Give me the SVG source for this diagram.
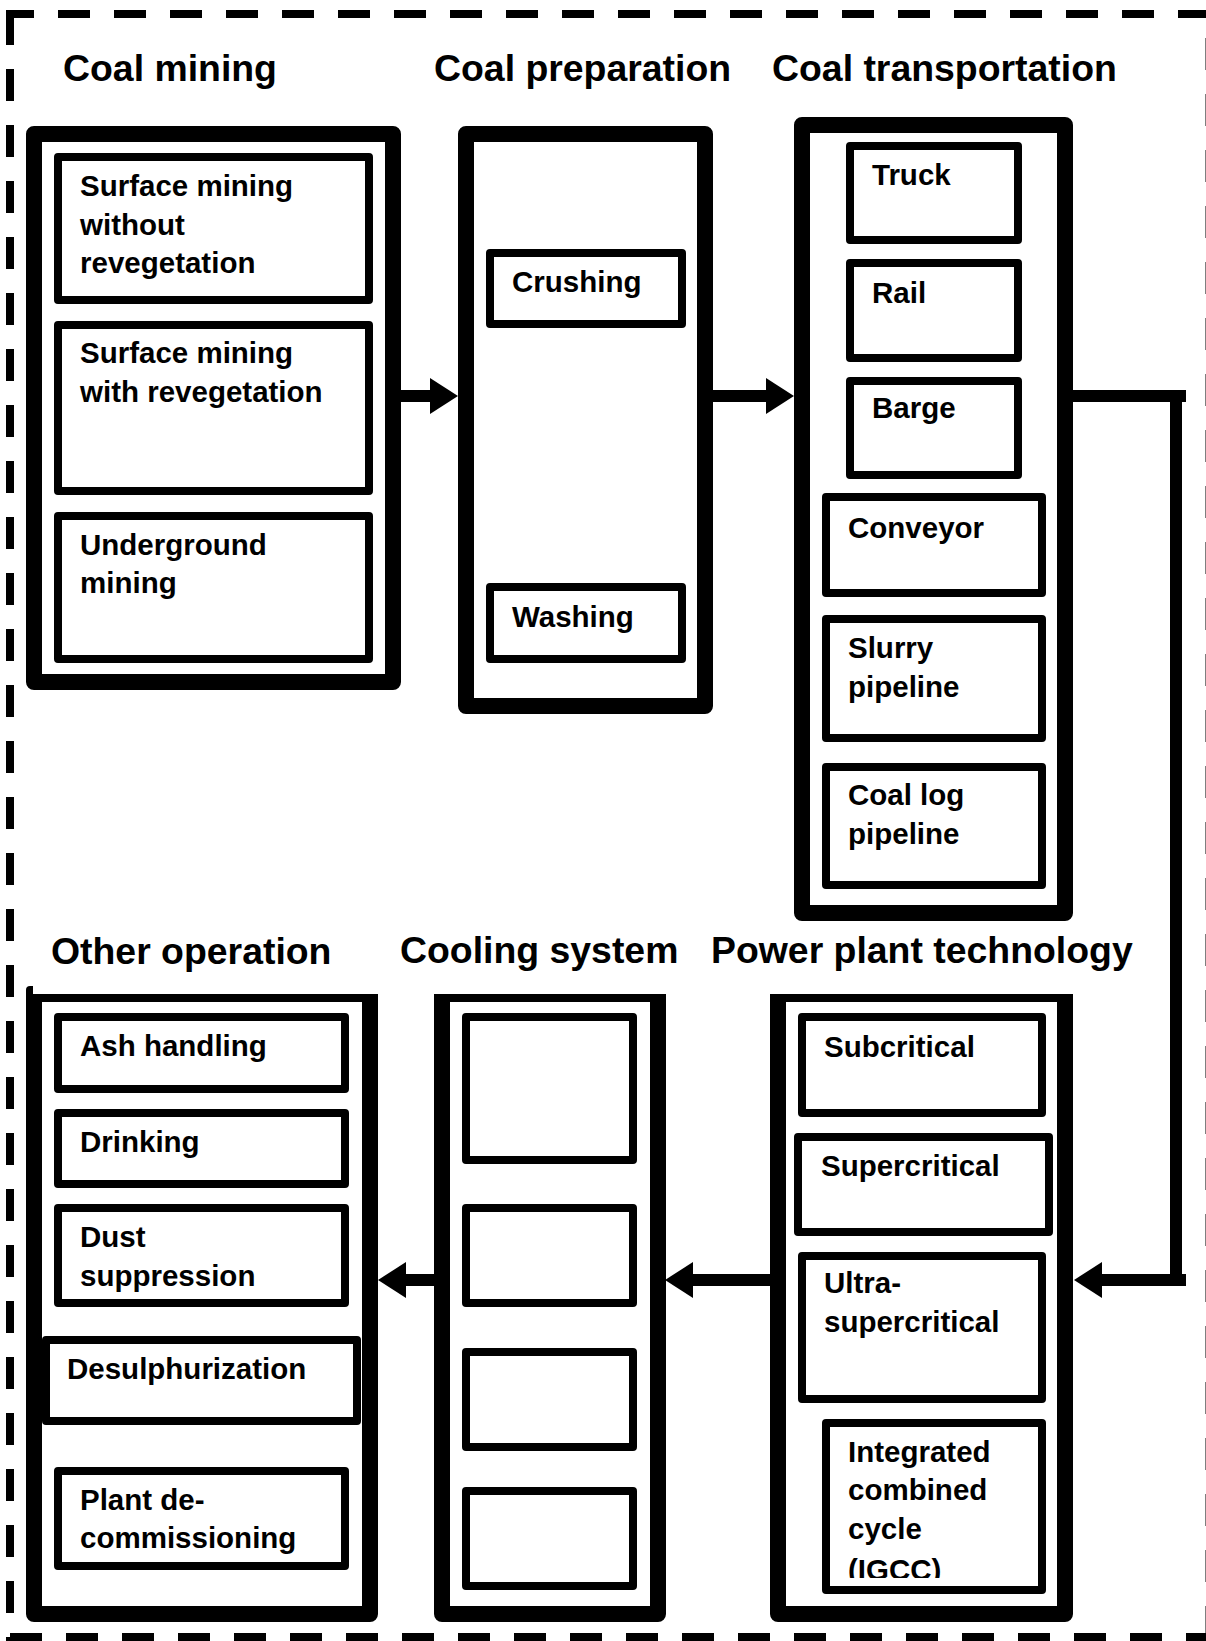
<svg xmlns="http://www.w3.org/2000/svg" width="1206" height="1641" viewBox="0 0 1206 1641">
<style>
.outer{fill:#fff;stroke:#000;stroke-width:16;stroke-linejoin:round}
.inner{fill:#fff;stroke:#000;stroke-width:8;stroke-linejoin:round}
.title{font-family:"Liberation Sans",Arial,sans-serif;font-weight:bold;font-size:37.4px;fill:#000}
.lbl{font-family:"Liberation Sans",Arial,sans-serif;font-weight:bold;font-size:29.5px;fill:#000}
.conn{fill:none;stroke:#000;stroke-width:12}
.border{fill:none;stroke:#000;stroke-width:8;stroke-dasharray:32 24}
</style>
<defs>
<marker id="arrow" markerUnits="userSpaceOnUse" markerWidth="28" markerHeight="36" refX="0" refY="18" orient="auto" viewBox="0 0 28 36">
<path d="M0 0 L28 18 L0 36 Z" fill="#000"/>
</marker>
<clipPath id="clipLow"><rect x="0" y="994" width="1206" height="647"/></clipPath>
<clipPath id="clipIgcc"><rect x="0" y="0" width="1206" height="1578"/></clipPath>
</defs>
<rect x="0" y="0" width="1206" height="1641" fill="#fff"/>

<g id="frame">
<line class="border" x1="6" y1="14" x2="1206" y2="14" stroke-dashoffset="4"/>
<line class="border" x1="10" y1="13" x2="10" y2="1641"/>
<line class="border" x1="10" y1="1637" x2="1206" y2="1637"/>
<line class="border" x1="1209.5" y1="38" x2="1209.5" y2="1641"/>
</g>

<g id="titles">
<text class="title" x="63" y="81">Coal mining</text>
<text class="title" x="434" y="81">Coal preparation</text>
<text class="title" x="772" y="81">Coal transportation</text>
<text class="title" x="51" y="964">Other operation</text>
<text class="title" x="400" y="963">Cooling system</text>
<text class="title" x="711" y="963">Power plant technology</text>
</g>

<g id="coal-mining">
<rect class="outer" x="34" y="134" width="359" height="548"/>
<rect class="inner" x="58" y="157" width="311" height="143"/>
<text class="lbl" x="80" y="196">Surface mining</text>
<text class="lbl" x="80" y="235">without</text>
<text class="lbl" x="80" y="273">revegetation</text>
<rect class="inner" x="58" y="325" width="311" height="166"/>
<text class="lbl" x="80" y="363">Surface mining</text>
<text class="lbl" x="80" y="402">with revegetation</text>
<rect class="inner" x="58" y="516" width="311" height="143"/>
<text class="lbl" x="80" y="555">Underground</text>
<text class="lbl" x="80" y="593">mining</text>
</g>

<g id="coal-preparation">
<rect class="outer" x="466" y="134" width="239" height="572"/>
<rect class="inner" x="490" y="253" width="192" height="71"/>
<text class="lbl" x="512" y="292">Crushing</text>
<rect class="inner" x="490" y="587" width="192" height="72"/>
<text class="lbl" x="512" y="627">Washing</text>
</g>

<g id="coal-transportation">
<rect class="outer" x="802" y="125" width="263" height="788"/>
<rect class="inner" x="850" y="146" width="168" height="94"/>
<text class="lbl" x="872" y="185">Truck</text>
<rect class="inner" x="850" y="263" width="168" height="95"/>
<text class="lbl" x="872" y="303">Rail</text>
<rect class="inner" x="850" y="381" width="168" height="94"/>
<text class="lbl" x="872" y="418">Barge</text>
<rect class="inner" x="826" y="497" width="216" height="96"/>
<text class="lbl" x="848" y="538">Conveyor</text>
<rect class="inner" x="826" y="619" width="216" height="119"/>
<text class="lbl" x="848" y="658">Slurry</text>
<text class="lbl" x="848" y="697">pipeline</text>
<rect class="inner" x="826" y="767" width="216" height="118"/>
<text class="lbl" x="848" y="805">Coal log</text>
<text class="lbl" x="848" y="844">pipeline</text>
</g>

<g id="power-plant-technology">
<rect class="outer" x="778" y="994" width="287" height="620" clip-path="url(#clipLow)"/>
<rect class="inner" x="802" y="1017" width="240" height="96"/>
<text class="lbl" x="824" y="1057">Subcritical</text>
<rect class="inner" x="798" y="1137" width="251" height="95"/>
<text class="lbl" x="821" y="1176">Supercritical</text>
<rect class="inner" x="802" y="1256" width="240" height="143"/>
<text class="lbl" x="824" y="1293">Ultra-</text>
<text class="lbl" x="824" y="1332">supercritical</text>
<rect class="inner" x="826" y="1423" width="216" height="167"/>
<text class="lbl" x="848" y="1462">Integrated</text>
<text class="lbl" x="848" y="1500">combined</text>
<text class="lbl" x="848" y="1539">cycle</text>
<text class="lbl" x="848" y="1580" clip-path="url(#clipIgcc)">(IGCC)</text>
</g>

<g id="cooling-system">
<rect class="outer" x="442" y="994" width="216" height="620" clip-path="url(#clipLow)"/>
<rect class="inner" x="466" y="1017" width="167" height="143"/>
<rect class="inner" x="466" y="1208" width="167" height="95"/>
<rect class="inner" x="466" y="1352" width="167" height="95"/>
<rect class="inner" x="466" y="1491" width="167" height="95"/>
</g>

<g id="other-operation">
<rect class="outer" x="34" y="994" width="336" height="620" clip-path="url(#clipLow)"/>
<path d="M26 994 V990 Q26 986 30 986 H33 V994 Z" fill="#000"/>
<rect class="inner" x="58" y="1017" width="287" height="72"/>
<text class="lbl" x="80" y="1056">Ash handling</text>
<rect class="inner" x="58" y="1113" width="287" height="71"/>
<text class="lbl" x="80" y="1152">Drinking</text>
<rect class="inner" x="58" y="1208" width="287" height="95"/>
<text class="lbl" x="80" y="1247">Dust</text>
<text class="lbl" x="80" y="1286">suppression</text>
<rect class="inner" x="46" y="1340" width="311" height="81"/>
<text class="lbl" x="67" y="1379">Desulphurization</text>
<rect class="inner" x="58" y="1471" width="287" height="95"/>
<text class="lbl" x="80" y="1510">Plant de-</text>
<text class="lbl" x="80" y="1548">commissioning</text>
</g>

<g id="connectors">
<line class="conn" x1="401" y1="396" x2="430" y2="396" marker-end="url(#arrow)"/>
<line class="conn" x1="713" y1="396" x2="766" y2="396" marker-end="url(#arrow)"/>
<path class="conn" d="M1073 396 H1186 M1176 402 V1274 M1186 1280 H1102" marker-end="url(#arrow)"/>
<line class="conn" x1="770" y1="1280" x2="693" y2="1280" marker-end="url(#arrow)"/>
<line class="conn" x1="434" y1="1280" x2="406" y2="1280" marker-end="url(#arrow)"/>
</g>
</svg>
